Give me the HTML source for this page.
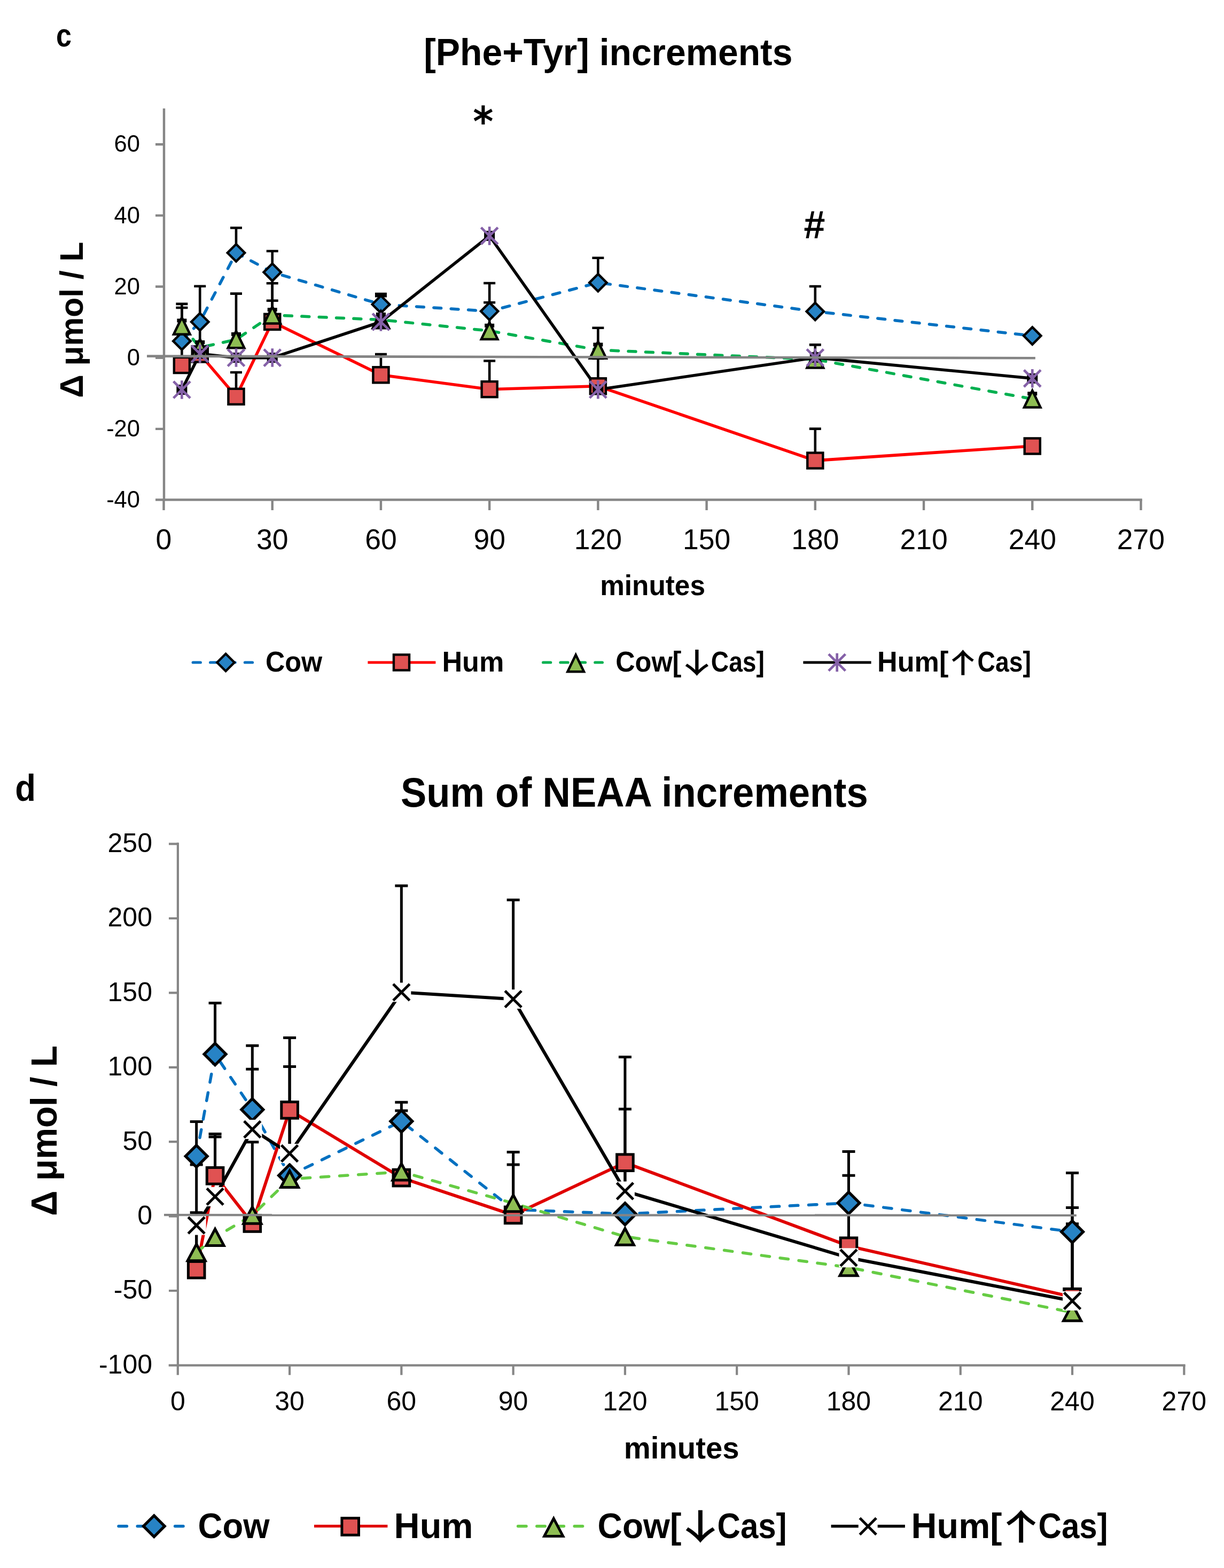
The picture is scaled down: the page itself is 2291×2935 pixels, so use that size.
<!DOCTYPE html>
<html><head><meta charset="utf-8"><title>Phe+Tyr and NEAA increments</title><style>html,body{margin:0;padding:0;background:#fff;}svg{display:block;}</style></head><body>
<svg width="2291" height="2935" viewBox="0 0 2291 2935" font-family="'Liberation Sans', Arial, sans-serif" fill="#000"><g id="chartc">
<path d="M307 203V937.7M291 935.5H2137.8" stroke="#868686" stroke-width="4.4" fill="none"/>
<path d="M291 270.22H307M291 403.38H307M291 536.54H307M291 669.7H307M291 802.86H307M306.5 935.5V955M509.72 935.5V955M712.94 935.5V955M916.16 935.5V955M1119.38 935.5V955M1322.6 935.5V955M1525.82 935.5V955M1729.04 935.5V955M1932.26 935.5V955M2135.48 935.5V955" stroke="#868686" stroke-width="4.4" fill="none"/>
<text x="262" y="284.42" font-size="43.5" text-anchor="end">60</text>
<text x="262" y="417.58" font-size="43.5" text-anchor="end">40</text>
<text x="262" y="550.74" font-size="43.5" text-anchor="end">20</text>
<text x="262" y="683.9" font-size="43.5" text-anchor="end">0</text>
<text x="262" y="817.06" font-size="43.5" text-anchor="end">-20</text>
<text x="262" y="950.22" font-size="43.5" text-anchor="end">-40</text>
<text x="306.5" y="1028.3" font-size="53.5" text-anchor="middle">0</text>
<text x="509.72" y="1028.3" font-size="53.5" text-anchor="middle">30</text>
<text x="712.94" y="1028.3" font-size="53.5" text-anchor="middle">60</text>
<text x="916.16" y="1028.3" font-size="53.5" text-anchor="middle">90</text>
<text x="1119.38" y="1028.3" font-size="53.5" text-anchor="middle">120</text>
<text x="1322.6" y="1028.3" font-size="53.5" text-anchor="middle">150</text>
<text x="1525.82" y="1028.3" font-size="53.5" text-anchor="middle">180</text>
<text x="1729.04" y="1028.3" font-size="53.5" text-anchor="middle">210</text>
<text x="1932.26" y="1028.3" font-size="53.5" text-anchor="middle">240</text>
<text x="2135.48" y="1028.3" font-size="53.5" text-anchor="middle">270</text>
<path d="M340.37 638.4L374.24 602.4L441.98 473.2L509.72 509.6L712.94 569.7L916.16 582.6L1119.38 529.1L1525.82 582.9L1932.26 628.6" fill="none" stroke="#0070C0" stroke-width="5.5" stroke-linejoin="round" stroke-dasharray="13.9 18.5" stroke-linecap="round"/>
<path d="M340.37 683.5L374.24 663L441.98 742.3L509.72 602.4L712.94 701.8L916.16 728.7L1119.38 722.8L1525.82 862.1L1932.26 835" fill="none" stroke="#FF0000" stroke-width="5.6" stroke-linejoin="round"/>
<path d="M340.37 610L374.24 650.6L441.98 635.5L509.72 589.7L712.94 598.5L916.16 619.3L1119.38 655L1525.82 672.8L1932.26 746.8" fill="none" stroke="#00B050" stroke-width="5.5" stroke-linejoin="round" stroke-dasharray="13.9 18.5" stroke-linecap="round"/>
<path d="M340.37 729.5L374.24 662.3L441.98 669.6L509.72 669.6L712.94 602.5L916.16 441.5L1119.38 729.2L1525.82 669.4L1932.26 708.3" fill="none" stroke="#000" stroke-width="5.6" stroke-linejoin="round"/>
<path d="M340.37 683.5V576M329.37 576H351.37" stroke="#000" stroke-width="4.6" fill="none"/>
<path d="M340.37 610V568.9M329.37 568.9H351.37" stroke="#000" stroke-width="4.6" fill="none"/>
<path d="M374.24 663V535.8M363.24 535.8H385.24" stroke="#000" stroke-width="4.6" fill="none"/>
<path d="M441.98 473.2V426.5M430.98 426.5H452.98" stroke="#000" stroke-width="4.6" fill="none"/>
<path d="M441.98 635.5V549.6M430.98 549.6H452.98" stroke="#000" stroke-width="4.6" fill="none"/>
<path d="M441.98 742.3V697M430.98 697H452.98" stroke="#000" stroke-width="4.6" fill="none"/>
<path d="M509.72 602.4V470M498.72 470H520.72" stroke="#000" stroke-width="4.6" fill="none"/>
<path d="M509.72 602.4V530.2M498.72 530.2H520.72" stroke="#000" stroke-width="4.6" fill="none"/>
<path d="M509.72 602.4V562.8M498.72 562.8H520.72" stroke="#000" stroke-width="4.6" fill="none"/>
<path d="M712.94 600V550M701.94 550H723.94" stroke="#000" stroke-width="4.6" fill="none"/>
<path d="M712.94 600V554.2M701.94 554.2H723.94" stroke="#000" stroke-width="4.6" fill="none"/>
<path d="M712.94 701.8V663M701.94 663H723.94" stroke="#000" stroke-width="4.6" fill="none"/>
<path d="M916.16 582.6V530M905.16 530H927.16" stroke="#000" stroke-width="4.6" fill="none"/>
<path d="M916.16 619.3V566.2M905.16 566.2H927.16" stroke="#000" stroke-width="4.6" fill="none"/>
<path d="M916.16 728.7V675.5M905.16 675.5H927.16" stroke="#000" stroke-width="4.6" fill="none"/>
<path d="M1119.38 529.1V482.8M1108.38 482.8H1130.38" stroke="#000" stroke-width="4.6" fill="none"/>
<path d="M1119.38 655V613.8M1108.38 613.8H1130.38" stroke="#000" stroke-width="4.6" fill="none"/>
<path d="M1119.38 722.8V671M1108.38 671H1130.38" stroke="#000" stroke-width="4.6" fill="none"/>
<path d="M1525.82 582.9V536M1514.82 536H1536.82" stroke="#000" stroke-width="4.6" fill="none"/>
<path d="M1525.82 672.8V645.4M1514.82 645.4H1536.82" stroke="#000" stroke-width="4.6" fill="none"/>
<path d="M1525.82 862.1V802.6M1514.82 802.6H1536.82" stroke="#000" stroke-width="4.6" fill="none"/>
<path d="M340.37 622.2L356.57 638.4L340.37 654.6L324.17 638.4Z" fill="#2783C5" stroke="#000" stroke-width="4.4" stroke-linejoin="miter"/>
<path d="M374.24 586.2L390.44 602.4L374.24 618.6L358.04 602.4Z" fill="#2783C5" stroke="#000" stroke-width="4.4" stroke-linejoin="miter"/>
<path d="M441.98 457L458.18 473.2L441.98 489.4L425.78 473.2Z" fill="#2783C5" stroke="#000" stroke-width="4.4" stroke-linejoin="miter"/>
<path d="M509.72 493.4L525.92 509.6L509.72 525.8L493.52 509.6Z" fill="#2783C5" stroke="#000" stroke-width="4.4" stroke-linejoin="miter"/>
<path d="M712.94 553.5L729.14 569.7L712.94 585.9L696.74 569.7Z" fill="#2783C5" stroke="#000" stroke-width="4.4" stroke-linejoin="miter"/>
<path d="M916.16 566.4L932.36 582.6L916.16 598.8L899.96 582.6Z" fill="#2783C5" stroke="#000" stroke-width="4.4" stroke-linejoin="miter"/>
<path d="M1119.38 512.9L1135.58 529.1L1119.38 545.3L1103.18 529.1Z" fill="#2783C5" stroke="#000" stroke-width="4.4" stroke-linejoin="miter"/>
<path d="M1525.82 566.7L1542.02 582.9L1525.82 599.1L1509.62 582.9Z" fill="#2783C5" stroke="#000" stroke-width="4.4" stroke-linejoin="miter"/>
<path d="M1932.26 612.4L1948.46 628.6L1932.26 644.8L1916.06 628.6Z" fill="#2783C5" stroke="#000" stroke-width="4.4" stroke-linejoin="miter"/>
<rect x="325.82" y="668.95" width="29.1" height="29.1" fill="#E05252" stroke="#000" stroke-width="4.4"/>
<rect x="359.69" y="648.45" width="29.1" height="29.1" fill="#E05252" stroke="#000" stroke-width="4.4"/>
<rect x="427.43" y="727.75" width="29.1" height="29.1" fill="#E05252" stroke="#000" stroke-width="4.4"/>
<rect x="495.17" y="587.85" width="29.1" height="29.1" fill="#E05252" stroke="#000" stroke-width="4.4"/>
<rect x="698.39" y="687.25" width="29.1" height="29.1" fill="#E05252" stroke="#000" stroke-width="4.4"/>
<rect x="901.61" y="714.15" width="29.1" height="29.1" fill="#E05252" stroke="#000" stroke-width="4.4"/>
<rect x="1104.83" y="708.25" width="29.1" height="29.1" fill="#E05252" stroke="#000" stroke-width="4.4"/>
<rect x="1511.27" y="847.55" width="29.1" height="29.1" fill="#E05252" stroke="#000" stroke-width="4.4"/>
<rect x="1917.71" y="820.45" width="29.1" height="29.1" fill="#E05252" stroke="#000" stroke-width="4.4"/>
<rect x="331.37" y="596.5" width="18" height="7" fill="#000"/>
<path d="M340.37 594.2L355.67 625.8L325.07 625.8Z" fill="#8EBD53" stroke="#000" stroke-width="4.5" stroke-linejoin="miter" stroke-miterlimit="10"/>
<rect x="365.24" y="637.1" width="18" height="7" fill="#000"/>
<path d="M374.24 634.8L389.54 666.4L358.94 666.4Z" fill="#8EBD53" stroke="#000" stroke-width="4.5" stroke-linejoin="miter" stroke-miterlimit="10"/>
<rect x="432.98" y="622" width="18" height="7" fill="#000"/>
<path d="M441.98 619.7L457.28 651.3L426.68 651.3Z" fill="#8EBD53" stroke="#000" stroke-width="4.5" stroke-linejoin="miter" stroke-miterlimit="10"/>
<rect x="500.72" y="576.2" width="18" height="7" fill="#000"/>
<path d="M509.72 573.9L525.02 605.5L494.42 605.5Z" fill="#8EBD53" stroke="#000" stroke-width="4.5" stroke-linejoin="miter" stroke-miterlimit="10"/>
<rect x="703.94" y="585" width="18" height="7" fill="#000"/>
<path d="M712.94 582.7L728.24 614.3L697.64 614.3Z" fill="#8EBD53" stroke="#000" stroke-width="4.5" stroke-linejoin="miter" stroke-miterlimit="10"/>
<rect x="907.16" y="605.8" width="18" height="7" fill="#000"/>
<path d="M916.16 603.5L931.46 635.1L900.86 635.1Z" fill="#8EBD53" stroke="#000" stroke-width="4.5" stroke-linejoin="miter" stroke-miterlimit="10"/>
<rect x="1110.38" y="641.5" width="18" height="7" fill="#000"/>
<path d="M1119.38 639.2L1134.68 670.8L1104.08 670.8Z" fill="#8EBD53" stroke="#000" stroke-width="4.5" stroke-linejoin="miter" stroke-miterlimit="10"/>
<rect x="1516.82" y="659.3" width="18" height="7" fill="#000"/>
<path d="M1525.82 657L1541.12 688.6L1510.52 688.6Z" fill="#8EBD53" stroke="#000" stroke-width="4.5" stroke-linejoin="miter" stroke-miterlimit="10"/>
<rect x="1923.26" y="733.3" width="18" height="7" fill="#000"/>
<path d="M1932.26 731L1947.56 762.6L1916.96 762.6Z" fill="#8EBD53" stroke="#000" stroke-width="4.5" stroke-linejoin="miter" stroke-miterlimit="10"/>
<rect x="330.37" y="720" width="20" height="19" fill="#000"/><path d="M340.37 712.23V746.77M324.67 713.8L356.07 745.2M356.07 713.8L324.67 745.2" stroke="#8561A8" stroke-width="4.7" fill="none"/>
<rect x="364.24" y="652.8" width="20" height="19" fill="#000"/><path d="M374.24 645.03V679.57M358.54 646.6L389.94 678M389.94 646.6L358.54 678" stroke="#8561A8" stroke-width="4.7" fill="none"/>
<rect x="431.98" y="660.1" width="20" height="19" fill="#000"/><path d="M441.98 652.33V686.87M426.28 653.9L457.68 685.3M457.68 653.9L426.28 685.3" stroke="#8561A8" stroke-width="4.7" fill="none"/>
<rect x="499.72" y="660.1" width="20" height="19" fill="#000"/><path d="M509.72 652.33V686.87M494.02 653.9L525.42 685.3M525.42 653.9L494.02 685.3" stroke="#8561A8" stroke-width="4.7" fill="none"/>
<rect x="702.94" y="593" width="20" height="19" fill="#000"/><path d="M712.94 585.23V619.77M697.24 586.8L728.64 618.2M728.64 586.8L697.24 618.2" stroke="#8561A8" stroke-width="4.7" fill="none"/>
<rect x="906.16" y="432" width="20" height="19" fill="#000"/><path d="M916.16 424.23V458.77M900.46 425.8L931.86 457.2M931.86 425.8L900.46 457.2" stroke="#8561A8" stroke-width="4.7" fill="none"/>
<rect x="1109.38" y="719.7" width="20" height="19" fill="#000"/><path d="M1119.38 711.93V746.47M1103.68 713.5L1135.08 744.9M1135.08 713.5L1103.68 744.9" stroke="#8561A8" stroke-width="4.7" fill="none"/>
<rect x="1515.82" y="659.9" width="20" height="19" fill="#000"/><path d="M1525.82 652.13V686.67M1510.12 653.7L1541.52 685.1M1541.52 653.7L1510.12 685.1" stroke="#8561A8" stroke-width="4.7" fill="none"/>
<rect x="1922.26" y="698.8" width="20" height="19" fill="#000"/><path d="M1932.26 691.03V725.57M1916.56 692.6L1947.96 724M1947.96 692.6L1916.56 724" stroke="#8561A8" stroke-width="4.7" fill="none"/>
<path d="M275 666.6L1937.8 670.2" stroke="#848484" stroke-width="4.6"/>
<path d="M361.2 1240L473.7 1240" fill="none" stroke="#0070C0" stroke-width="5.2" stroke-linejoin="round" stroke-dasharray="14.1 18.3" stroke-linecap="round"/>
<path d="M422.5 1223.8L438.7 1240L422.5 1256.2L406.3 1240Z" fill="#2783C5" stroke="#000" stroke-width="4.4" stroke-linejoin="miter"/>
<path d="M688.4 1240L815.4 1240" fill="none" stroke="#FF0000" stroke-width="5.0" stroke-linejoin="round"/>
<rect x="736.95" y="1225.45" width="29.1" height="29.1" fill="#E05252" stroke="#000" stroke-width="4.4"/>
<path d="M1016.6 1240L1127.4 1240" fill="none" stroke="#00B050" stroke-width="5.2" stroke-linejoin="round" stroke-dasharray="14.1 18.3" stroke-linecap="round"/>
<path d="M1077.7 1225.7L1093 1257.3L1062.4 1257.3Z" fill="#8EBD53" stroke="#000" stroke-width="4.5" stroke-linejoin="miter" stroke-miterlimit="10"/>
<path d="M1503.4 1240L1630.6 1240" fill="none" stroke="#000" stroke-width="5.0" stroke-linejoin="round"/>
<path d="M1566.7 1222.73V1257.27M1551 1224.3L1582.4 1255.7M1582.4 1224.3L1551 1255.7" stroke="#8561A8" stroke-width="4.7" fill="none"/>
</g>
<g id="chartd">
<path d="M332.9 1577.3V2557.6M315.7 2555.6H2218.6" stroke="#868686" stroke-width="4.2" fill="none"/>
<path d="M316 1579.6H333M316 1719H333M316 1858.4H333M316 1997.8H333M316 2137.2H333M316 2276.6H333M316 2416H333M332.8 2555.6V2573.7M542.08 2555.6V2573.7M751.36 2555.6V2573.7M960.64 2555.6V2573.7M1169.92 2555.6V2573.7M1379.2 2555.6V2573.7M1588.48 2555.6V2573.7M1797.76 2555.6V2573.7M2007.04 2555.6V2573.7M2216.32 2555.6V2573.7" stroke="#868686" stroke-width="4.2" fill="none"/>
<text x="285" y="1594.9" font-size="50" text-anchor="end">250</text>
<text x="285" y="1734.3" font-size="50" text-anchor="end">200</text>
<text x="285" y="1873.7" font-size="50" text-anchor="end">150</text>
<text x="285" y="2013.1" font-size="50" text-anchor="end">100</text>
<text x="285" y="2152.5" font-size="50" text-anchor="end">50</text>
<text x="285" y="2291.9" font-size="50" text-anchor="end">0</text>
<text x="285" y="2431.3" font-size="50" text-anchor="end">-50</text>
<text x="285" y="2570.7" font-size="50" text-anchor="end">-100</text>
<text x="332.8" y="2639.8" font-size="50" text-anchor="middle">0</text>
<text x="542.08" y="2639.8" font-size="50" text-anchor="middle">30</text>
<text x="751.36" y="2639.8" font-size="50" text-anchor="middle">60</text>
<text x="960.64" y="2639.8" font-size="50" text-anchor="middle">90</text>
<text x="1169.92" y="2639.8" font-size="50" text-anchor="middle">120</text>
<text x="1379.2" y="2639.8" font-size="50" text-anchor="middle">150</text>
<text x="1588.48" y="2639.8" font-size="50" text-anchor="middle">180</text>
<text x="1797.76" y="2639.8" font-size="50" text-anchor="middle">210</text>
<text x="2007.04" y="2639.8" font-size="50" text-anchor="middle">240</text>
<text x="2216.32" y="2639.8" font-size="50" text-anchor="middle">270</text>
<path d="M367.68 2164.2L402.56 1973.2L472.32 2077L542.08 2200.3L751.36 2098.8L960.64 2264L1169.92 2272.3L1588.48 2251.7L2007.04 2305.7" fill="none" stroke="#0070C0" stroke-width="5.5" stroke-linejoin="round" stroke-dasharray="15.4 19.8" stroke-linecap="round"/>
<path d="M367.68 2376.7L402.56 2200.8L472.32 2290L542.08 2077.9L751.36 2204.6L960.64 2274.4L1169.92 2176.2L1588.48 2332.3L2007.04 2427.7" fill="none" stroke="#E00000" stroke-width="5.9" stroke-linejoin="round"/>
<path d="M367.68 2344.2L402.56 2316L472.32 2274.7L542.08 2207L751.36 2193.5L960.64 2252.2L1169.92 2314.8L1588.48 2372.3L2007.04 2456.7" fill="none" stroke="#66CC44" stroke-width="5.5" stroke-linejoin="round" stroke-dasharray="15.4 19.8" stroke-linecap="round"/>
<path d="M367.68 2293.6L402.56 2239.9L472.32 2114L542.08 2159L751.36 1857.4L960.64 1870.2L1169.92 2229.5L1588.48 2354.3L2007.04 2435" fill="none" stroke="#000" stroke-width="6.1" stroke-linejoin="round"/>
<path d="M367.68 2376.7V2269.8M355.68 2269.8H379.68" stroke="#000" stroke-width="5.0" fill="none"/>
<path d="M367.68 2345.5V2180M355.68 2180H379.68" stroke="#000" stroke-width="5.0" fill="none"/>
<path d="M367.68 2164.2V2099.5M355.68 2099.5H379.68" stroke="#000" stroke-width="5.0" fill="none"/>
<path d="M402.56 2200.8V2122.4M390.56 2122.4H414.56" stroke="#000" stroke-width="5.0" fill="none"/>
<path d="M402.56 2200.8V2128M390.56 2128H414.56" stroke="#000" stroke-width="5.0" fill="none"/>
<path d="M402.56 1973.2V1877.6M390.56 1877.6H414.56" stroke="#000" stroke-width="5.0" fill="none"/>
<path d="M472.32 2274.6V2137.7M460.32 2137.7H484.32" stroke="#000" stroke-width="5.0" fill="none"/>
<path d="M472.32 2077V1957.3M460.32 1957.3H484.32" stroke="#000" stroke-width="5.0" fill="none"/>
<path d="M472.32 2077V2001.3M460.32 2001.3H484.32" stroke="#000" stroke-width="5.0" fill="none"/>
<path d="M542.08 2159V1942.4M530.08 1942.4H554.08" stroke="#000" stroke-width="5.0" fill="none"/>
<path d="M542.08 2159V1996.4M530.08 1996.4H554.08" stroke="#000" stroke-width="5.0" fill="none"/>
<path d="M751.36 1857.4V1658.1M739.36 1658.1H763.36" stroke="#000" stroke-width="5.0" fill="none"/>
<path d="M751.36 2193V2063.3M739.36 2063.3H763.36" stroke="#000" stroke-width="5.0" fill="none"/>
<path d="M751.36 2193V2079.1M739.36 2079.1H763.36" stroke="#000" stroke-width="5.0" fill="none"/>
<path d="M960.64 1870.2V1684.4M948.64 1684.4H972.64" stroke="#000" stroke-width="5.0" fill="none"/>
<path d="M960.64 2251V2156.6M948.64 2156.6H972.64" stroke="#000" stroke-width="5.0" fill="none"/>
<path d="M960.64 2251V2180M948.64 2180H972.64" stroke="#000" stroke-width="5.0" fill="none"/>
<path d="M1169.92 2229.5V1978.4M1157.92 1978.4H1181.92" stroke="#000" stroke-width="5.0" fill="none"/>
<path d="M1169.92 2229.5V2076M1157.92 2076H1181.92" stroke="#000" stroke-width="5.0" fill="none"/>
<path d="M1588.48 2332.3V2155.4M1576.48 2155.4H1600.48" stroke="#000" stroke-width="5.0" fill="none"/>
<path d="M1588.48 2332.3V2200.3M1576.48 2200.3H1600.48" stroke="#000" stroke-width="5.0" fill="none"/>
<path d="M2007.04 2435V2195.4M1995.04 2195.4H2019.04" stroke="#000" stroke-width="5.0" fill="none"/>
<path d="M2007.04 2435V2260.5M1995.04 2260.5H2019.04" stroke="#000" stroke-width="5.0" fill="none"/>
<path d="M2007.04 2435V2290.8M1995.04 2290.8H2019.04" stroke="#000" stroke-width="5.0" fill="none"/>
<path d="M2007.04 2435V2413M1995.04 2413H2019.04" stroke="#000" stroke-width="5.0" fill="none"/>
<path d="M367.68 2143.8L388.08 2164.2L367.68 2184.6L347.28 2164.2Z" fill="#2783C5" stroke="#000" stroke-width="5.3" stroke-linejoin="miter"/>
<path d="M402.56 1952.8L422.96 1973.2L402.56 1993.6L382.16 1973.2Z" fill="#2783C5" stroke="#000" stroke-width="5.3" stroke-linejoin="miter"/>
<path d="M472.32 2056.6L492.72 2077L472.32 2097.4L451.92 2077Z" fill="#2783C5" stroke="#000" stroke-width="5.3" stroke-linejoin="miter"/>
<path d="M542.08 2179.9L562.48 2200.3L542.08 2220.7L521.68 2200.3Z" fill="#2783C5" stroke="#000" stroke-width="5.3" stroke-linejoin="miter"/>
<path d="M751.36 2078.4L771.76 2098.8L751.36 2119.2L730.96 2098.8Z" fill="#2783C5" stroke="#000" stroke-width="5.3" stroke-linejoin="miter"/>
<path d="M1169.92 2251.9L1190.32 2272.3L1169.92 2292.7L1149.52 2272.3Z" fill="#2783C5" stroke="#000" stroke-width="5.3" stroke-linejoin="miter"/>
<path d="M1588.48 2231.3L1608.88 2251.7L1588.48 2272.1L1568.08 2251.7Z" fill="#2783C5" stroke="#000" stroke-width="5.3" stroke-linejoin="miter"/>
<path d="M2007.04 2285.3L2027.44 2305.7L2007.04 2326.1L1986.64 2305.7Z" fill="#2783C5" stroke="#000" stroke-width="5.3" stroke-linejoin="miter"/>
<rect x="352.38" y="2361.4" width="30.6" height="30.6" fill="#E05252" stroke="#000" stroke-width="5.0"/>
<rect x="387.26" y="2185.5" width="30.6" height="30.6" fill="#E05252" stroke="#000" stroke-width="5.0"/>
<rect x="457.02" y="2274.7" width="30.6" height="30.6" fill="#E05252" stroke="#000" stroke-width="5.0"/>
<rect x="526.78" y="2062.6" width="30.6" height="30.6" fill="#E05252" stroke="#000" stroke-width="5.0"/>
<rect x="736.06" y="2189.3" width="30.6" height="30.6" fill="#E05252" stroke="#000" stroke-width="5.0"/>
<rect x="945.34" y="2259.1" width="30.6" height="30.6" fill="#E05252" stroke="#000" stroke-width="5.0"/>
<rect x="1154.62" y="2160.9" width="30.6" height="30.6" fill="#E05252" stroke="#000" stroke-width="5.0"/>
<rect x="1573.18" y="2317" width="30.6" height="30.6" fill="#E05252" stroke="#000" stroke-width="5.0"/>
<rect x="1991.74" y="2412.4" width="30.6" height="30.6" fill="#E05252" stroke="#000" stroke-width="5.0"/>
<path d="M367.68 2328.7L384.18 2359.7L351.18 2359.7Z" fill="#8EBD53" stroke="#000" stroke-width="5.0" stroke-linejoin="miter" stroke-miterlimit="10"/>
<path d="M402.56 2300.5L419.06 2331.5L386.06 2331.5Z" fill="#8EBD53" stroke="#000" stroke-width="5.0" stroke-linejoin="miter" stroke-miterlimit="10"/>
<path d="M472.32 2259.2L488.82 2290.2L455.82 2290.2Z" fill="#8EBD53" stroke="#000" stroke-width="5.0" stroke-linejoin="miter" stroke-miterlimit="10"/>
<path d="M542.08 2191.5L558.58 2222.5L525.58 2222.5Z" fill="#8EBD53" stroke="#000" stroke-width="5.0" stroke-linejoin="miter" stroke-miterlimit="10"/>
<path d="M751.36 2178L767.86 2209L734.86 2209Z" fill="#8EBD53" stroke="#000" stroke-width="5.0" stroke-linejoin="miter" stroke-miterlimit="10"/>
<path d="M960.64 2236.7L977.14 2267.7L944.14 2267.7Z" fill="#8EBD53" stroke="#000" stroke-width="5.0" stroke-linejoin="miter" stroke-miterlimit="10"/>
<path d="M1169.92 2299.3L1186.42 2330.3L1153.42 2330.3Z" fill="#8EBD53" stroke="#000" stroke-width="5.0" stroke-linejoin="miter" stroke-miterlimit="10"/>
<path d="M1588.48 2356.8L1604.98 2387.8L1571.98 2387.8Z" fill="#8EBD53" stroke="#000" stroke-width="5.0" stroke-linejoin="miter" stroke-miterlimit="10"/>
<path d="M2007.04 2441.2L2023.54 2472.2L1990.54 2472.2Z" fill="#8EBD53" stroke="#000" stroke-width="5.0" stroke-linejoin="miter" stroke-miterlimit="10"/>
<rect x="349.68" y="2275.6" width="36" height="36" fill="#fff"/><path d="M352.28 2278.2L383.08 2309M383.08 2278.2L352.28 2309" stroke="#000" stroke-width="5.0" fill="none"/>
<rect x="384.56" y="2221.9" width="36" height="36" fill="#fff"/><path d="M387.16 2224.5L417.96 2255.3M417.96 2224.5L387.16 2255.3" stroke="#000" stroke-width="5.0" fill="none"/>
<rect x="454.32" y="2096" width="36" height="36" fill="#fff"/><path d="M456.92 2098.6L487.72 2129.4M487.72 2098.6L456.92 2129.4" stroke="#000" stroke-width="5.0" fill="none"/>
<rect x="524.08" y="2141" width="36" height="36" fill="#fff"/><path d="M526.68 2143.6L557.48 2174.4M557.48 2143.6L526.68 2174.4" stroke="#000" stroke-width="5.0" fill="none"/>
<rect x="733.36" y="1839.4" width="36" height="36" fill="#fff"/><path d="M735.96 1842L766.76 1872.8M766.76 1842L735.96 1872.8" stroke="#000" stroke-width="5.0" fill="none"/>
<rect x="942.64" y="1852.2" width="36" height="36" fill="#fff"/><path d="M945.24 1854.8L976.04 1885.6M976.04 1854.8L945.24 1885.6" stroke="#000" stroke-width="5.0" fill="none"/>
<rect x="1151.92" y="2211.5" width="36" height="36" fill="#fff"/><path d="M1154.52 2214.1L1185.32 2244.9M1185.32 2214.1L1154.52 2244.9" stroke="#000" stroke-width="5.0" fill="none"/>
<rect x="1570.48" y="2336.3" width="36" height="36" fill="#fff"/><path d="M1573.08 2338.9L1603.88 2369.7M1603.88 2338.9L1573.08 2369.7" stroke="#000" stroke-width="5.0" fill="none"/>
<rect x="1989.04" y="2417" width="36" height="36" fill="#fff"/><path d="M1991.64 2419.6L2022.44 2450.4M2022.44 2419.6L1991.64 2450.4" stroke="#000" stroke-width="5.0" fill="none"/>
<path d="M307 2274.2L2014.8 2274.9" stroke="#848484" stroke-width="4.3"/>
<path d="M222 2856.7L343.9 2856.7" fill="none" stroke="#0070C0" stroke-width="5.5" stroke-linejoin="round" stroke-dasharray="15.4 19.8" stroke-linecap="round"/>
<path d="M288.3 2836.9L308.1 2856.7L288.3 2876.5L268.5 2856.7Z" fill="#2783C5" stroke="#000" stroke-width="5.3" stroke-linejoin="miter"/>
<path d="M588 2856.7L725.4 2856.7" fill="none" stroke="#E00000" stroke-width="5.3" stroke-linejoin="round"/>
<rect x="639.9" y="2841.7" width="31.6" height="31.6" fill="#E05252" stroke="#000" stroke-width="5.0"/>
<path d="M969.6 2856.7L1091 2856.7" fill="none" stroke="#66CC44" stroke-width="5.5" stroke-linejoin="round" stroke-dasharray="15.4 19.8" stroke-linecap="round"/>
<path d="M1036.3 2842.4L1053.8 2875.4L1018.8 2875.4Z" fill="#8EBD53" stroke="#000" stroke-width="5.0" stroke-linejoin="miter" stroke-miterlimit="10"/>
<path d="M1555.6 2856.7L1693.9 2856.7" fill="none" stroke="#000" stroke-width="5.6" stroke-linejoin="round"/>
<rect x="1606.7" y="2839" width="36" height="36" fill="#fff"/><path d="M1609.3 2841.6L1640.1 2872.4M1640.1 2841.6L1609.3 2872.4" stroke="#000" stroke-width="5.0" fill="none"/>
</g>
<text id="c_title" x="793.3" y="121.8" font-size="71" font-weight="bold" textLength="690.07" lengthAdjust="spacingAndGlyphs">[Phe+Tyr] increments</text>
<text id="c_label" x="105" y="87.3" font-size="61.6" font-weight="bold" textLength="28.96" lengthAdjust="spacingAndGlyphs">c</text>
<text id="c_min" x="1123.2" y="1114" font-size="53.6" font-weight="bold" textLength="196.76" lengthAdjust="spacingAndGlyphs">minutes</text>
<text id="c_star" transform="translate(885.3 254) scale(0.95 1)" font-size="77" font-family="'DejaVu Sans', 'Liberation Sans', sans-serif" font-weight="bold">*</text>
<text id="c_hash" transform="translate(1504.5 445.5) scale(0.97 1)" font-size="74" font-weight="bold">#</text>
<text id="c_yt" transform="translate(154.6 744.8) rotate(-90)" font-size="61.8" font-weight="bold" textLength="292.26" lengthAdjust="spacingAndGlyphs">Δ μmol / L</text>
<text id="cl_cow" x="497" y="1256.6" font-size="53.3" font-weight="bold" textLength="106.27" lengthAdjust="spacingAndGlyphs">Cow</text>
<text id="cl_hum" x="827.4" y="1256.6" font-size="53.3" font-weight="bold" textLength="116" lengthAdjust="spacingAndGlyphs">Hum</text>
<text id="cl_cowl1" x="1152.2" y="1256.6" font-size="53.3" font-weight="bold" textLength="123.2" lengthAdjust="spacingAndGlyphs">Cow[</text>
<clipPath id="cp_cl_cowl2"><rect x="1270" y="1216" width="70" height="59"/></clipPath><g clip-path="url(#cp_cl_cowl2)"><text id="cl_cowl2" transform="translate(1258 1258.9) scale(1.28 1)" font-size="72.5" font-family="'Noto Sans CJK JP', 'Noto Sans CJK SC', 'DejaVu Sans', sans-serif" font-weight="400">↓</text></g>
<text id="cl_cowl3" x="1330.8" y="1256.6" font-size="53.3" font-weight="bold" textLength="100.1" lengthAdjust="spacingAndGlyphs">Cas]</text>
<text id="cl_humh1" x="1642" y="1256.6" font-size="53.3" font-weight="bold" textLength="133.25" lengthAdjust="spacingAndGlyphs">Hum[</text>
<clipPath id="cp_cl_humh2"><rect x="1770" y="1205" width="70" height="58.7"/></clipPath><g clip-path="url(#cp_cl_humh2)"><text id="cl_humh2" transform="translate(1758.6 1276.9) scale(1.21 1)" font-size="72.5" font-family="'Noto Sans CJK JP', 'Noto Sans CJK SC', 'DejaVu Sans', sans-serif" font-weight="400">↑</text></g>
<text id="cl_humh3" x="1829.6" y="1256.6" font-size="53.3" font-weight="bold" textLength="100.29" lengthAdjust="spacingAndGlyphs">Cas]</text>
<text id="d_title" x="750" y="1510" font-size="77" font-weight="bold" textLength="874.74" lengthAdjust="spacingAndGlyphs">Sum of NEAA increments</text>
<text id="d_label" x="28.2" y="1498.9" font-size="70" font-weight="bold" textLength="38.77" lengthAdjust="spacingAndGlyphs">d</text>
<text id="d_min" x="1167.8" y="2729.8" font-size="56.6" font-weight="bold" textLength="215.77" lengthAdjust="spacingAndGlyphs">minutes</text>
<text id="d_yt" transform="translate(105.9 2276) rotate(-90)" font-size="68.2" font-weight="bold" textLength="319.08" lengthAdjust="spacingAndGlyphs">Δ μmol / L</text>
<text id="dl_cow" x="370.6" y="2879" font-size="67" font-weight="bold" textLength="133.88" lengthAdjust="spacingAndGlyphs">Cow</text>
<text id="dl_hum" x="737.6" y="2879" font-size="67" font-weight="bold" textLength="147.87" lengthAdjust="spacingAndGlyphs">Hum</text>
<text id="dl_cowl1" x="1118.6" y="2879" font-size="67" font-weight="bold" textLength="156.65" lengthAdjust="spacingAndGlyphs">Cow[</text>
<clipPath id="cp_dl_cowl2"><rect x="1270" y="2826.7" width="80" height="73.3"/></clipPath><g clip-path="url(#cp_dl_cowl2)"><text id="dl_cowl2" transform="translate(1252.8 2880.1) scale(1.27 1)" font-size="91.6" font-family="'Noto Sans CJK JP', 'Noto Sans CJK SC', 'DejaVu Sans', sans-serif" font-weight="400">↓</text></g>
<text id="dl_cowl3" x="1342.6" y="2879" font-size="67" font-weight="bold" textLength="129.99" lengthAdjust="spacingAndGlyphs">Cas]</text>
<text id="dl_humh1" x="1705.6" y="2879" font-size="67" font-weight="bold" textLength="169.78" lengthAdjust="spacingAndGlyphs">Hum[</text>
<clipPath id="cp_dl_humh2"><rect x="1870" y="2815" width="80" height="72.4"/></clipPath><g clip-path="url(#cp_dl_humh2)"><text id="dl_humh2" transform="translate(1853 2903.6) scale(1.27 1)" font-size="91.6" font-family="'Noto Sans CJK JP', 'Noto Sans CJK SC', 'DejaVu Sans', sans-serif" font-weight="400">↑</text></g>
<text id="dl_humh3" x="1943.6" y="2879" font-size="67" font-weight="bold" textLength="129.99" lengthAdjust="spacingAndGlyphs">Cas]</text></svg>
</body></html>
